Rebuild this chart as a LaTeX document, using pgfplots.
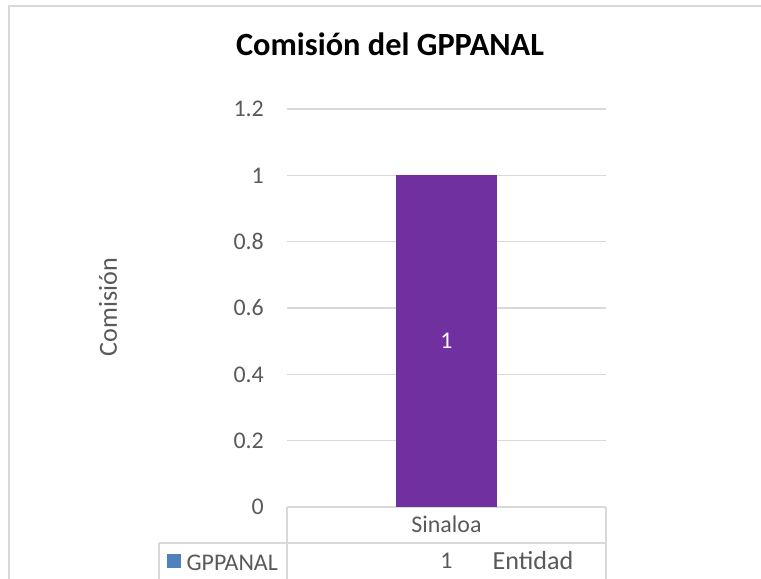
\documentclass[border=0pt]{standalone}
\usepackage{pgfplots}
\pgfplotsset{compat=1.18}
\usepackage{fontspec}
\setmainfont{Carlito}
\definecolor{barpurple}{HTML}{7030A0}
\definecolor{legblue}{HTML}{4F81BD}
\definecolor{gridgray}{HTML}{D9D9D9}
\definecolor{txtgray}{HTML}{595959}
\newcommand{\tickfont}{\fontsize{24}{28}\selectfont}
\newcommand{\labfont}{\fontsize{26.2}{31}\selectfont}
\begin{document}
\begin{tikzpicture}
\begin{axis}[
  at={(287bp,-507bp)}, anchor=south west,
  scale only axis, width=319bp, height=398bp,
  xmin=-0.5, xmax=0.5, ymin=0, ymax=1.2,
  clip=false,
  axis line style={draw=none},
  major tick length=0pt,
  ytick={0,0.2,0.4,0.6,0.8,1,1.2},
  yticklabels={0,0.2,0.4,0.6,0.8,1,1.2},
  ymajorgrids, grid style={gridgray, line width=1.2bp},
  xtick={0}, xticklabels={Sinaloa},
  tick label style={font=\tickfont, text=txtgray},
  yticklabel style={anchor=east, inner sep=0pt, xshift=-23bp},
  xticklabel style={anchor=base, inner sep=0pt, yshift=-25bp},
  title={Comisión del GPPANAL},
  title style={font=\bfseries\fontsize{32.5}{37}\selectfont, text=black, at={(axis description cs:0.323,1.119)}, anchor=base, inner sep=0pt},
  ylabel={Comisión},
  ylabel style={font=\labfont, text=txtgray, at={(axis description cs:-0.533,0.5025)}, anchor=base, inner sep=0pt},
  xlabel={Entidad},
  xlabel style={font=\labfont, text=txtgray, at={(axis description cs:0.771,-0.158)}, anchor=base, inner sep=0pt},
  legend style={at={(axis description cs:-0.377,-0.1414)}, anchor=west, draw=none, fill=none,
    inner sep=0pt, outer sep=0pt, column sep=6bp, font=\tickfont, text=txtgray,
    nodes={inner sep=0pt, outer sep=0pt}},
  legend cell align=left,
]
\addplot[ybar, bar width=100bp, fill=barpurple, draw=none, forget plot] coordinates {(0,1)};
\addplot[draw=none, mark=none, forget plot, nodes near coords, point meta=explicit symbolic,
  every node near coord/.style={anchor=center, text=white, font=\tickfont, inner sep=0pt}]
  coordinates {(0,0.5) [1]};
\addlegendimage{legend image code/.code={\fill[legblue] (0bp,-3.5bp) rectangle (13.5bp,9.5bp);}}
\addlegendentry{GPPANAL}
\node[anchor=base, font=\tickfont, text=txtgray, inner sep=0pt] at (axis cs:0,-0.186) {1};
\end{axis}
\draw[gridgray, line width=1.2bp] (159bp,-543bp) -- (606bp,-543bp);
\draw[gridgray, line width=1.2bp] (287bp,-507bp) -- (287bp,-590bp);
\draw[gridgray, line width=1.2bp] (606bp,-507bp) -- (606bp,-590bp);
\draw[gridgray, line width=1.2bp] (159bp,-543bp) -- (159bp,-590bp);
\draw[gridgray, line width=1.3bp] (9bp,-590bp) -- (9bp,-6bp) -- (780bp,-6bp);
\pgfresetboundingbox
\useasboundingbox (0,0) rectangle (761bp,-579bp);
\end{tikzpicture}
\end{document}
